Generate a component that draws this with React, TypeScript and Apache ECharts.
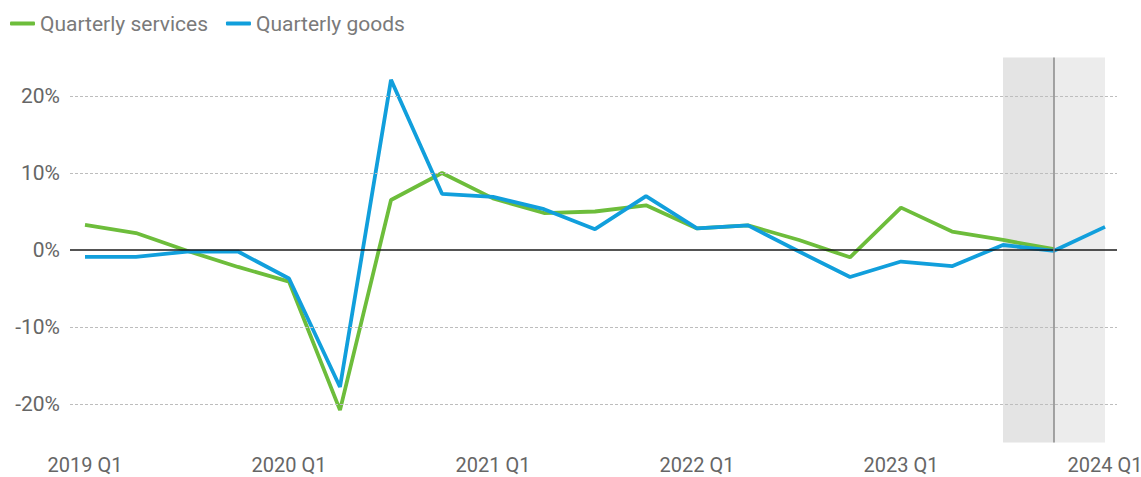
import React, { useEffect, useRef } from "react";
import * as echarts from "echarts";

const quarters = [
  "2019 Q1", "2019 Q2", "2019 Q3", "2019 Q4",
  "2020 Q1", "2020 Q2", "2020 Q3", "2020 Q4",
  "2021 Q1", "2021 Q2", "2021 Q3", "2021 Q4",
  "2022 Q1", "2022 Q2", "2022 Q3", "2022 Q4",
  "2023 Q1", "2023 Q2", "2023 Q3", "2023 Q4",
  "2024 Q1",
];
const services: (number | null)[] = [
  3.25, 2.2, -0.1, -2.2,
  -4.1, -20.8, 6.5, 10.0,
  6.7, 4.8, 5.0, 5.8,
  2.8, 3.2, 1.3, -0.95,
  5.5, 2.4, 1.3, 0.1,
  null,
];
const goods: number[] = [
  -0.9, -0.9, -0.2, -0.2,
  -3.7, -17.8, 22.1, 7.3,
  6.9, 5.3, 2.7, 7.0,
  2.8, 3.2, -0.2, -3.5,
  -1.5, -2.1, 0.65, -0.1,
  3.0,
];
const xLabelIdx = [0, 4, 8, 12, 16, 20];
const yTicks = [-20, -10, 0, 10, 20];
const gridLines = [-20, -10, 10, 20];
const shadeStart = "2023 Q3";
const shadeMid = "2023 Q4";
const shadeEnd = "2024 Q1";

const FONT = "Roboto, sans-serif";

export default function App() {
  const ref = useRef<HTMLDivElement>(null);
  useEffect(() => {
    document.body.style.margin = "0";
    if (!ref.current) return;
    const chart = echarts.init(ref.current, null, { renderer: "svg" });
    const s0 = quarters.indexOf(shadeStart);
    const s1 = quarters.indexOf(shadeMid);
    const s2 = quarters.indexOf(shadeEnd);
    chart.setOption({
      animation: false,
      textStyle: { fontFamily: FONT },
      legend: {
        left: 5,
        top: 8,
        itemWidth: 25,
        itemHeight: 4,
        itemGap: 18,
        icon: "roundRect",
        textStyle: { fontFamily: FONT, fontSize: 21, color: "#7a7a7a" },
        data: ["Quarterly services", "Quarterly goods"],
      },
      grid: {
        left: 70,
        right: 24,
        top: 57.5,
        bottom: 34.5,
        containLabel: false,
        outerBoundsMode: "none",
      },
      xAxis: {
        type: "value",
        min: -0.294,
        max: 20.235,
        axisLine: { show: false },
        axisTick: { show: false },
        splitLine: { show: false },
        axisLabel: {
          customValues: xLabelIdx,
          formatter: (v: number) => quarters[Math.round(v)] ?? "",
          fontFamily: FONT,
          fontSize: 20,
          color: "#666",
          margin: 12,
        },
      },
      yAxis: {
        type: "value",
        min: -25,
        max: 25,
        axisLine: { show: false },
        axisTick: { show: false },
        splitLine: { show: false },
        axisLabel: {
          customValues: yTicks,
          formatter: (v: number) => `${v}%`,
          fontFamily: FONT,
          fontSize: 21,
          color: "#666",
          margin: 10,
        },
      },
      series: [
        {
          name: "shade",
          type: "line",
          data: [],
          silent: true,
          z: 1,
          markArea: {
            silent: true,
            data: [
              [{ xAxis: s0, itemStyle: { color: "#e4e4e4" } }, { xAxis: s1 }],
              [{ xAxis: s1, itemStyle: { color: "#ececec" } }, { xAxis: s2 }],
            ],
          },
        },
        {
          name: "lines",
          type: "line",
          data: [],
          silent: true,
          z: 2,
          markLine: {
            silent: true,
            symbol: "none",
            label: { show: false },
            data: [
              ...gridLines.map((v) => ({
                yAxis: v,
                lineStyle: { color: "#bdbdbd", width: 1.2, type: [3, 2] },
              })),
              { yAxis: 0, lineStyle: { color: "#1a1a1a", width: 1.5, type: "solid" } },
              { xAxis: s1, lineStyle: { color: "#8a8a8a", width: 1.5, type: "solid" } },
            ],
          },
        },
        {
          name: "Quarterly services",
          type: "line",
          z: 3,
          showSymbol: false,
          symbol: "none",
          color: "#6dbd3b",
          lineStyle: { width: 3.8, color: "#6dbd3b" },
          data: services.map((v, i) => [i, v]),
        },
        {
          name: "Quarterly goods",
          type: "line",
          z: 4,
          showSymbol: false,
          symbol: "none",
          color: "#119fdc",
          lineStyle: { width: 3.8, color: "#119fdc" },
          data: goods.map((v, i) => [i, v]),
        },
      ],
    });
    return () => chart.dispose();
  }, []);
  return <div ref={ref} style={{ width: 1141, height: 477 }} />;
}
